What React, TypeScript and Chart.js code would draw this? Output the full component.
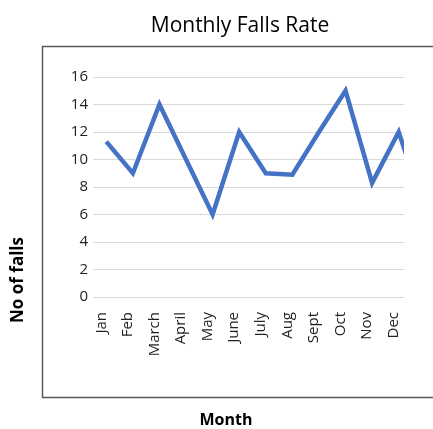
import React, { useEffect, useRef } from 'react';
import { Chart, registerables } from 'chart.js';

Chart.register(...registerables);

const months = ['Jan', 'Feb', 'March', 'April', 'May', 'June', 'July', 'Aug', 'Sept', 'Oct', 'Nov', 'Dec'];
const falls = [11.3, 9.0, 14.0, 10.0, 6.0, 12.0, 9.0, 8.9, 12.0, 15.0, 8.3, 12.0];
// the series continues past the right edge of the picture, where it is clipped
const nextMonthFalls = 6.2;
const yMin = 0;
const yMax = 16;
const yStep = 2;
const chartTitle = 'Monthly Falls Rate';
const xTitle = 'Month';
const yTitle = 'No of falls';

const FONT = '"Open Sans", "Noto Sans", "DejaVu Sans", sans-serif';

const decor = {
  id: 'decor',
  afterDraw(chart: any) {
    const ctx = chart.ctx as CanvasRenderingContext2D;
    ctx.save();
    ctx.strokeStyle = '#595959';
    ctx.lineWidth = 1.5;
    ctx.strokeRect(42.5, 46.5, 420, 351);

    ctx.fillStyle = '#000';
    ctx.textAlign = 'center';
    ctx.textBaseline = 'alphabetic';
    ctx.font = `21px ${FONT}`;
    ctx.fillText(chartTitle, 240, 32);

    ctx.textBaseline = 'middle';
    ctx.font = `bold 16px ${FONT}`;
    ctx.fillText(xTitle, 226, 420);

    ctx.translate(18, 280);
    ctx.rotate(-Math.PI / 2);
    ctx.font = `bold 17px ${FONT}`;
    ctx.fillText(yTitle, 0, 0);
    ctx.restore();
  },
};

export default function App() {
  const ref = useRef<HTMLCanvasElement | null>(null);

  useEffect(() => {
    document.body.style.margin = '0';
    const canvas = ref.current;
    if (!canvas) return;
    const points = falls.map((v, i) => ({ x: i, y: v }));
    points.push({ x: months.length, y: nextMonthFalls });

    const chart = new Chart(canvas, {
      type: 'line',
      data: {
        datasets: [
          {
            label: 'Falls',
            data: points,
            borderColor: '#4472C4',
            backgroundColor: '#4472C4',
            borderWidth: 4.5,
            pointRadius: 0,
            tension: 0,
            borderJoinStyle: 'miter',
            clip: 0,
          } as any,
        ],
      },
      options: {
        animation: false,
        responsive: false,
        devicePixelRatio: 1,
        layout: { padding: { top: 77, right: 29, bottom: 0, left: 0 } },
        plugins: {
          legend: { display: false },
          tooltip: { enabled: false },
          title: { display: false },
        },
        scales: {
          x: {
            type: 'linear',
            min: -0.5,
            max: 11.2,
            afterBuildTicks: (s: any) => {
              s.ticks = months.map((_, i) => ({ value: i }));
            },
            afterFit: (s: any) => {
              s.height = 132;
            },
            grid: { display: false, drawTicks: false },
            border: { display: false },
            ticks: {
              autoSkip: false,
              maxRotation: 90,
              minRotation: 90,
              padding: 15,
              labelOffset: -5,
              color: '#222',
              font: { family: FONT, size: 15 },
              callback: (v: any) => months[v as number] ?? '',
            },
          },
          y: {
            type: 'linear',
            min: yMin,
            max: yMax,
            afterFit: (s: any) => {
              s.width = 93;
            },
            grid: { color: '#d9d9d9', lineWidth: 1, drawTicks: false },
            border: { display: false },
            ticks: {
              stepSize: yStep,
              padding: 5,
              color: '#222',
              font: { family: FONT, size: 15 },
            },
          },
        },
      },
      plugins: [decor],
    });
    return () => chart.destroy();
  }, []);

  return (
    <div style={{ width: 433, height: 429 }}>
      <canvas ref={ref} width={433} height={429} style={{ display: 'block' }} />
    </div>
  );
}
